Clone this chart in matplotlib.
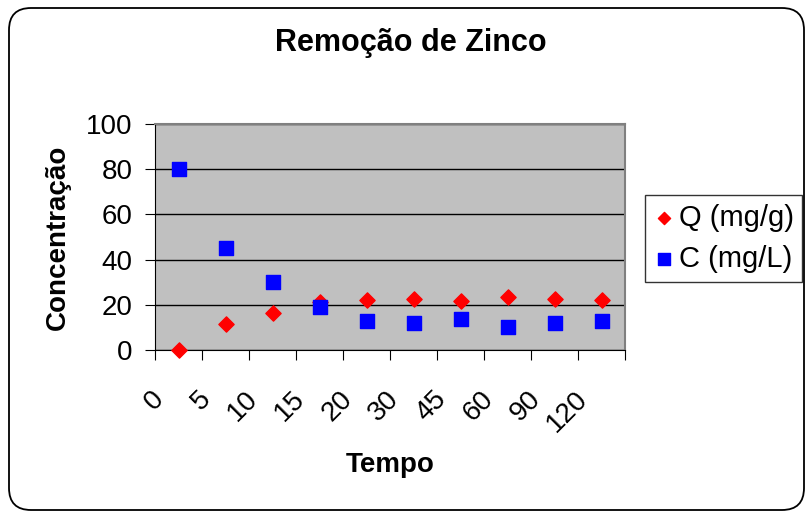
import matplotlib
matplotlib.use("Agg")
import matplotlib.pyplot as plt
from matplotlib.patches import FancyBboxPatch
import matplotlib.transforms as mtransforms
import numpy as np

plt.rcParams['font.family'] = ['Liberation Sans', 'DejaVu Sans']

categories = ["0", "5", "10", "15", "20", "30", "45", "60", "90", "120"]
q_values = [0.0, 11.5, 16.5, 21.4, 22.3, 22.6, 21.8, 23.3, 22.6, 22.3]
c_values = [80.0, 45.3, 30.0, 18.9, 13.0, 11.8, 13.9, 10.0, 11.8, 13.0]

W, H = 809, 513
fig = plt.figure(figsize=(W / 100, H / 100), dpi=100)
border = FancyBboxPatch((9, 3), 795, 502, boxstyle="round,pad=0,rounding_size=22",
                        transform=None, facecolor="white", edgecolor="black", lw=1.3, zorder=-5)
fig.patches.append(border)

ax = fig.add_axes([155 / W, 1 - 350 / H, 470 / W, 226 / H])
ax.set_facecolor("#c0c0c0")
x = np.arange(len(categories)) + 0.5
ax.scatter(x, q_values, marker='D', s=60, color='#ff0000', zorder=3, label='Q (mg/g)', clip_on=False)
ax.scatter(x, c_values, marker='s', s=115, color='#0000ff', zorder=3, label='C (mg/L)', clip_on=False)

ax.set_xlim(0, len(categories))
ax.set_ylim(0, 100)
ax.set_yticks([0, 20, 40, 60, 80, 100])
ax.set_xticks(np.arange(len(categories) + 1))
ax.set_xticklabels([])
ax.set_xticks(x, minor=True)
ax.set_xticklabels(categories, minor=True, rotation=45, fontsize=20, ha='right', va='top')
ax.tick_params(axis='x', which='minor', length=0, pad=26)
ax.tick_params(axis='x', which='major', length=7, direction='out', color='black')
ax.tick_params(axis='y', length=7, direction='out', labelsize=20, color='black', pad=9)
shift = mtransforms.ScaledTranslation(-9 / 100, 0, fig.dpi_scale_trans)
for lab in ax.get_xticklabels(minor=True):
    lab.set_transform(lab.get_transform() + shift)
ax.yaxis.grid(True, color='black', lw=1)
ax.set_axisbelow(True)
for s in ['top', 'right']:
    ax.spines[s].set_color('#808080')
    ax.spines[s].set_linewidth(1.5)
ax.spines['left'].set_color('black')
ax.spines['bottom'].set_color('black')

fig.text(390 / W, 1 - 465 / H, 'Tempo', ha='center', va='center', fontsize=20, fontweight='bold')
fig.text(58 / W, 1 - 237 / H, 'Concentração', ha='center', va='center', rotation=90,
         fontsize=20, fontweight='bold')
fig.text(411 / W, 1 - 43 / H, 'Remoção de Zinco', ha='center', va='center', fontsize=22, fontweight='bold')

leg = fig.legend(loc='upper left', bbox_to_anchor=(645 / W, 1 - 195 / H), fontsize=21, frameon=True,
                 fancybox=False, edgecolor='black', handletextpad=0.15, borderpad=0.3,
                 markerscale=0.8, labelspacing=0.45, handlelength=0.7, borderaxespad=0)
leg.get_frame().set_linewidth(1.0)

fig.savefig("out.png", dpi=100)
